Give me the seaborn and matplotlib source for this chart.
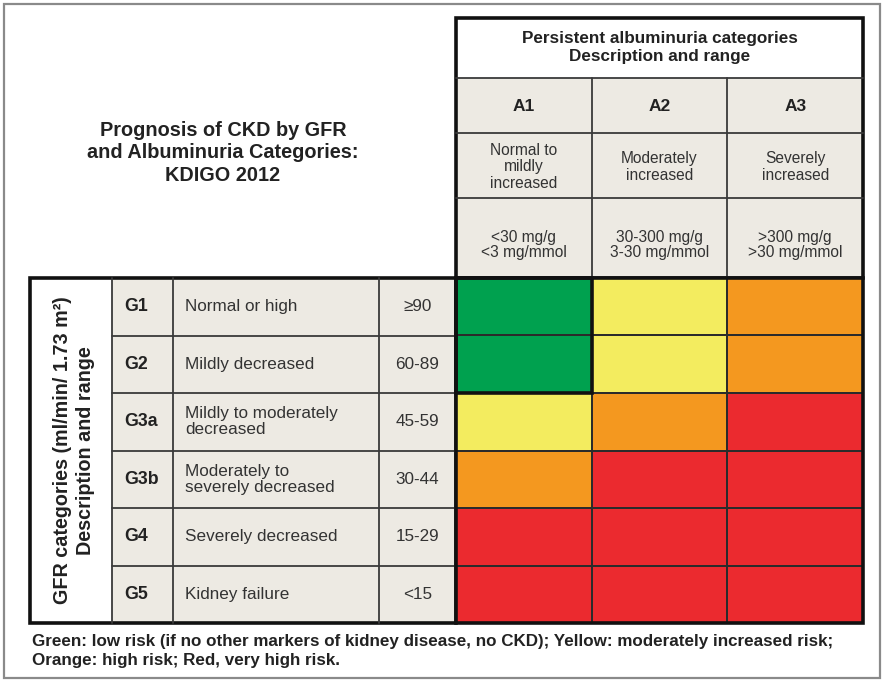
import numpy as np
import pandas as pd
import matplotlib
matplotlib.use("Agg")
import matplotlib.pyplot as plt
import seaborn as sns
from matplotlib.colors import ListedColormap
from matplotlib.patches import Rectangle

# ---- data ----
alb_codes = ["A1", "A2", "A3"]
alb_desc = ["Normal to\nmildly\nincreased", "Moderately\nincreased", "Severely\nincreased"]
alb_range = ["<30 mg/g\n<3 mg/mmol", "30-300 mg/g\n3-30 mg/mmol", ">300 mg/g\n>30 mg/mmol"]

gfr_codes = ["G1", "G2", "G3a", "G3b", "G4", "G5"]
gfr_desc = ["Normal or high", "Mildly decreased", "Mildly to moderately\ndecreased",
            "Moderately to\nseverely decreased", "Severely decreased", "Kidney failure"]
gfr_range = ["≥90", "60-89", "45-59", "30-44", "15-29", "<15"]

# 0 = green, 1 = yellow, 2 = orange, 3 = red
risk = [[0, 1, 2],
        [0, 1, 2],
        [1, 2, 3],
        [2, 3, 3],
        [3, 3, 3],
        [3, 3, 3]]
risk_colors = ["#00A14F", "#F3EC5F", "#F4981F", "#EB2A2F"]

footer = ("Green: low risk (if no other markers of kidney disease, no CKD); Yellow: moderately increased risk;\n"
          "Orange: high risk; Red, very high risk.")

# ---- layout (pixels) ----
W, H = 885, 683
BEIGE = "#EDEAE3"
LINE = "#3a3a3a"
x_l0, x_l1, x_l2, x_l3, x_l4 = 30, 112, 173, 379, 456
x_r1 = 863
y_top, y_hdr, y_a, y_desc, y_rng = 18, 78, 133, 198, 278
y_bot = 623
row_h = (y_bot - y_rng) / len(gfr_codes)
col_w = (x_r1 - x_l4) / len(alb_codes)

sns.set_theme(style="white")
plt.rcParams["font.family"] = ["Liberation Sans", "DejaVu Sans"]

fig = plt.figure(figsize=(W / 100, H / 100), dpi=100)
bg = fig.add_axes([0, 0, 1, 1])
bg.set_xlim(0, W)
bg.set_ylim(H, 0)
bg.axis("off")

# outer frame
bg.add_patch(Rectangle((4, 4), W - 9, H - 9, fill=False, ec="#8a8a8a", lw=1.6))

# title
bg.text(223, 153, "Prognosis of CKD by GFR\nand Albuminuria Categories:\nKDIGO 2012",
        ha="center", va="center", fontsize=14.3, fontweight="bold", color="#222", linespacing=1.26)

# ---- top-right header ----
bg.add_patch(Rectangle((x_l4, y_hdr), x_r1 - x_l4, y_rng - y_hdr, fc=BEIGE, ec="none"))
bg.text((x_l4 + x_r1) / 2, 48, "Persistent albuminuria categories\nDescription and range",
        ha="center", va="center", fontsize=12.3, fontweight="bold", color="#222", linespacing=1.25)
for yy in [y_hdr, y_a, y_desc]:
    bg.plot([x_l4, x_r1], [yy, yy], color=LINE, lw=1.3)
for j in range(1, 3):
    xx = x_l4 + j * col_w
    bg.plot([xx, xx], [y_hdr, y_rng], color=LINE, lw=1.3)
for j in range(3):
    cx = x_l4 + (j + 0.5) * col_w
    bg.text(cx, (y_hdr + y_a) / 2 + 1, alb_codes[j], ha="center", va="center",
            fontsize=12.5, fontweight="bold", color="#222")
    bg.text(cx, 167, alb_desc[j], ha="center", va="center", fontsize=11.2,
            color="#333", linespacing=1.13)
    bg.text(cx, 245, alb_range[j], ha="center", va="center", fontsize=11.2,
            color="#333", linespacing=1.08)
bg.add_patch(Rectangle((x_l4, y_top), x_r1 - x_l4, y_rng - y_top, fill=False, ec="#111", lw=2.6))

# ---- left GFR table ----
bg.add_patch(Rectangle((x_l1, y_rng), x_l4 - x_l1, y_bot - y_rng, fc=BEIGE, ec="none"))
for i in range(1, len(gfr_codes)):
    yy = y_rng + i * row_h
    bg.plot([x_l1, x_l4], [yy, yy], color=LINE, lw=1.3)
for xx in [x_l1, x_l2, x_l3]:
    bg.plot([xx, xx], [y_rng, y_bot], color=LINE, lw=1.3)
for i in range(len(gfr_codes)):
    cy = y_rng + (i + 0.5) * row_h
    bg.text(124, cy, gfr_codes[i], ha="left", va="center", fontsize=12.8,
            fontweight="bold", color="#222")
    bg.text(185, cy, gfr_desc[i], ha="left", va="center", fontsize=12.3,
            color="#333", linespacing=1.08)
    bg.text((x_l3 + x_l4) / 2, cy, gfr_range[i], ha="center", va="center",
            fontsize=12.3, color="#333")
bg.text(74, (y_rng + y_bot) / 2, "GFR categories (ml/min/ 1.73 m²)\nDescription and range",
        ha="center", va="center", rotation=90, fontsize=14.2, fontweight="bold",
        color="#222", linespacing=1.3)
bg.add_patch(Rectangle((x_l0, y_rng), x_l4 - x_l0, y_bot - y_rng, fill=False, ec="#111", lw=2.6))

# footer
bg.text(32, 651, footer, ha="left", va="center", fontsize=12.25, fontweight="bold",
        color="#222", linespacing=1.3)

# ---- risk heatmap ----
df = pd.DataFrame(risk, index=gfr_codes, columns=alb_codes)
hm = fig.add_axes([x_l4 / W, 1 - y_bot / H, (x_r1 - x_l4) / W, (y_bot - y_rng) / H])
sns.heatmap(df, ax=hm, cmap=ListedColormap(risk_colors), vmin=-0.5, vmax=3.5,
            cbar=False, linewidths=1.2, linecolor="#2b2b2b",
            xticklabels=False, yticklabels=False)
hm.set_xlabel("")
hm.set_ylabel("")
hm.add_patch(Rectangle((0, 0), 1, 2, fill=False, ec="#111", lw=2.6, clip_on=False))
hm.add_patch(Rectangle((0, 0), 3, 6, fill=False, ec="#111", lw=2.6, clip_on=False))

fig.savefig("out.png", dpi=100)
